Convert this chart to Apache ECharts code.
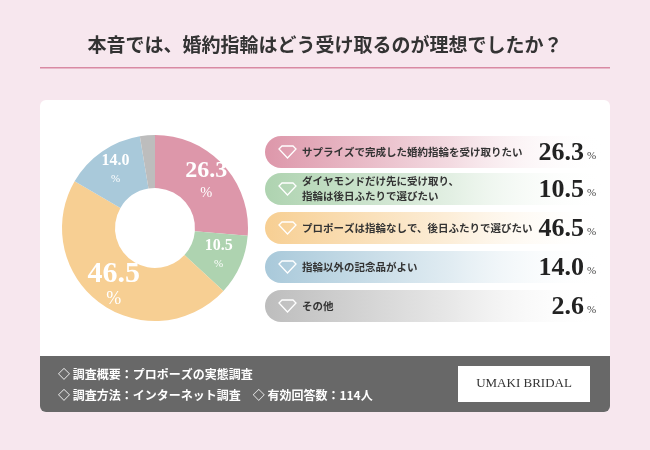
<!DOCTYPE html>
<html><head><meta charset="utf-8">
<script src="https://cdn.jsdelivr.net/npm/echarts@6/dist/echarts.min.js"></script>
<style>html,body{margin:0;padding:0;background:#f7e7ee}#c{width:650px;height:450px}</style>
</head><body><div id="c"></div>
<script>
const categories = ['サプライズで完成した婚約指輪を受け取りたい','ダイヤモンドだけ先に受け取り、\n指輪は後日ふたりで選びたい','プロポーズは指輪なしで、後日ふたりで選びたい','指輪以外の記念品がよい','その他'];
const values = [26.3, 10.5, 46.5, 14.0, 2.6];
const colors = ['#dd97aa','#aed3b0','#f7cf93','#a9c9da','#bdbdbd'];
const labelSizes = [24, 16, 30, 16, 0];
const JP = '"Noto Sans CJK JP", sans-serif';
const SERIF = '"Liberation Serif", "DejaVu Serif", serif';

const chart = echarts.init(document.getElementById('c'));
const g = [];
g.push({type:'text',left:'center',top:35,style:{text:'本音では、婚約指輪はどう受け取るのが理想でしたか？',font:'bold 19px '+JP,fill:'#333'}});
g.push({type:'rect',shape:{x:40,y:67,width:570,height:1.5},style:{fill:'#d98aa3'}});
g.push({type:'rect',shape:{x:40,y:100,width:570,height:312,r:6},style:{fill:'#fff'},z:-1});
g.push({type:'rect',shape:{x:40,y:356,width:570,height:56,r:[0,0,6,6]},style:{fill:'#686868'}});
g.push({type:'text',x:58,y:368,style:{text:'◇ 調査概要：プロポーズの実態調査',font:'bold 12px '+JP,fill:'#fff'}});
g.push({type:'text',x:58,y:389,style:{text:'◇ 調査方法：インターネット調査　◇ 有効回答数：114人',font:'bold 12px '+JP,fill:'#fff'}});
g.push({type:'rect',shape:{x:458,y:366,width:132,height:36},style:{fill:'#fff'}});
g.push({type:'text',x:524,y:384,style:{text:'UMAKI BRIDAL',font:'13px "Liberation Serif", serif',fill:'#333',align:'center',verticalAlign:'middle'}});
const rowY = [152,189,228,267,306];
categories.forEach((c,i)=>{
  const y = rowY[i];
  g.push({type:'rect',shape:{x:265,y:y-16,width:340,height:32,r:16},style:{fill:new echarts.graphic.LinearGradient(0,0,1,0,[{offset:0,color:colors[i]},{offset:0.55,color:echarts.color.modifyAlpha(colors[i],0.35)},{offset:1,color:'rgba(255,255,255,0)'}])}});
  g.push({type:'polygon',shape:{points:[[279,y-3],[282,y-6],[293,y-6],[296,y-3],[287.5,y+6]]},style:{fill:'none',stroke:'#fff',lineWidth:1.3}});
  g.push({type:'text',x:302,y:y,style:{text:c,font:'bold 10.5px '+JP,fill:'#333',verticalAlign:'middle',lineHeight:15}});
  g.push({type:'text',x:584,y:y+1,style:{text:values[i].toFixed(1),font:'bold 26px '+SERIF,fill:'#222',align:'right',verticalAlign:'middle'}});
  g.push({type:'text',x:587,y:y+4,style:{text:'%',font:'11px '+SERIF,fill:'#444',verticalAlign:'middle'}});
});
chart.setOption({
  animation:false,
  graphic:g,
  series:[{type:'pie',center:[155,228],radius:[40,93],startAngle:90,clockwise:true,
    data:values.map((v,i)=>({value:v,name:categories[i],itemStyle:{color:colors[i]},
      label:{show:labelSizes[i]>0,rich:{n:{fontSize:labelSizes[i],fontWeight:'bold',fontFamily:'Liberation Serif',color:'#fff'},p:{fontSize:Math.max(11,labelSizes[i]*0.6),fontFamily:'Liberation Serif',color:'#fff',lineHeight:20}}}})),
    label:{position:'inside',formatter:p=>'{n|'+p.value.toFixed(1)+'}\n{p|%}'},
    labelLine:{show:false}
  }]
});
</script></body></html>
